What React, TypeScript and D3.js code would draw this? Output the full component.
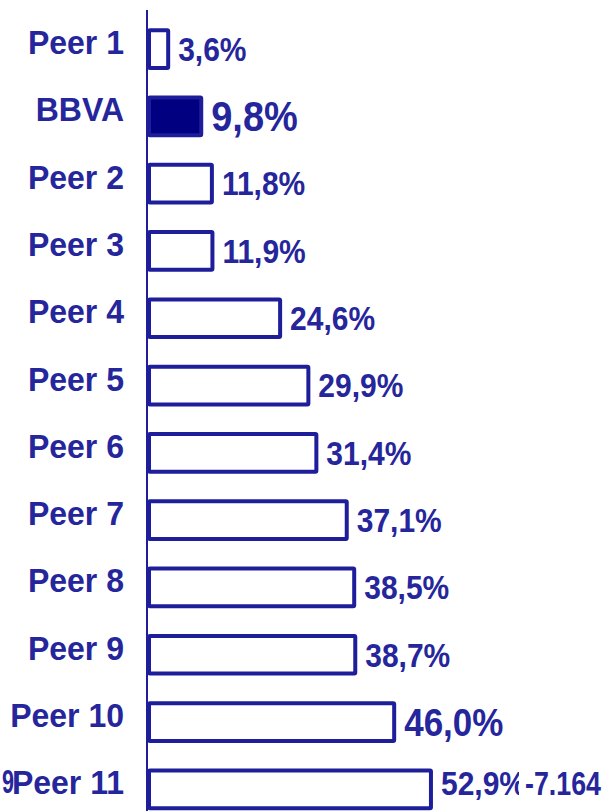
import React, { useEffect, useRef } from 'react';
import * as d3 from 'd3';

const categories = ['Peer 1', 'BBVA', 'Peer 2', 'Peer 3', 'Peer 4', 'Peer 5', 'Peer 6', 'Peer 7', 'Peer 8', 'Peer 9', 'Peer 10', 'Peer 11'];
const values = [3.6, 9.8, 11.8, 11.9, 24.6, 29.9, 31.4, 37.1, 38.5, 38.7, 46.0, 52.9];
const valueLabels = ['3,6%', '9,8%', '11,8%', '11,9%', '24,6%', '29,9%', '31,4%', '37,1%', '38,5%', '38,7%', '46,0%', '52,9%'];
const highlight = 'BBVA';
const strayLeft = '9';
const strayRight = '-7.164';

const width = 605;
const height = 811;

const App: React.FC = () => {
  const svgRef = useRef<SVGSVGElement>(null);

  useEffect(() => {
    if (!svgRef.current) return;
    const svg = d3.select(svgRef.current);
    svg.selectAll('*').remove();

    const blue = '#1e1e9b';
    const textBlue = '#26269c';
    const font = '"Liberation Sans", Arial, sans-serif';
    const stretch = 1.1;

    const x = d3.scaleLinear().domain([0, 60]).range([149, 149 + 60 * 5.33]);
    const y = d3.scaleBand<string>()
      .domain(categories)
      .range([15.4, 15.4 + categories.length * 67.3])
      .paddingInner(0.44)
      .paddingOuter(0.22);
    const mid = (c: string) => y(c)! + y.bandwidth() / 2;

    const data = categories.map((c, i) => ({ cat: c, value: values[i], label: valueLabels[i] }));
    const last = categories[categories.length - 1];

    // axis line
    svg.append('line')
      .attr('x1', 147).attr('x2', 147)
      .attr('y1', 10).attr('y2', height)
      .attr('stroke', blue)
      .attr('stroke-width', 2);

    // bars
    svg.selectAll('.bar')
      .data(data)
      .enter().append('rect')
      .attr('class', 'bar')
      .attr('x', x(0))
      .attr('y', d => y(d.cat)!)
      .attr('width', d => x(d.value) - x(0))
      .attr('height', y.bandwidth())
      .attr('rx', 1)
      .attr('fill', d => d.cat === highlight ? '#000080' : 'white')
      .attr('stroke', blue)
      .attr('stroke-width', 4);

    // stray "9" behind the Peer 11 label
    svg.append('text')
      .attr('transform', `translate(2, ${mid(last) + 4}) scale(1, ${stretch})`)
      .attr('textLength', 12)
      .attr('lengthAdjust', 'spacingAndGlyphs')
      .style('font-family', font)
      .style('font-weight', 'bold')
      .style('font-size', '31px')
      .style('fill', textBlue)
      .text(strayLeft);

    // category labels
    svg.selectAll('.cat')
      .data(data)
      .enter().append('text')
      .attr('class', 'cat')
      .attr('transform', d => `translate(124, ${mid(d.cat) + 5}) scale(1, 1.05)`)
      .attr('text-anchor', 'end')
      .style('font-family', font)
      .style('font-weight', 'bold')
      .style('font-size', '32px')
      .style('fill', textBlue)
      .text(d => d.cat);

    // value labels
    const sizeFor = (d: { cat: string }) => d.cat === highlight ? 38 : d.cat === 'Peer 10' ? 35 : 30;
    svg.selectAll('.val')
      .data(data)
      .enter().append('text')
      .attr('class', 'val')
      .attr('transform', d => {
        const off = d.cat === last ? 6 : sizeFor(d) * 0.394;
        return `translate(${x(d.value) + 10}, ${mid(d.cat) + off}) scale(1, ${stretch})`;
      })
      .style('font-family', font)
      .style('font-weight', 'bold')
      .style('font-size', d => `${sizeFor(d)}px`)
      .style('fill', textBlue)
      .text(d => d.label);

    // stray "-7.164" overlapping the last value label
    const stray = svg.append('g');
    stray.append('rect')
      .attr('x', 519)
      .attr('y', mid(last) - 24)
      .attr('width', 86)
      .attr('height', 42)
      .attr('fill', 'white');
    stray.append('text')
      .attr('transform', `translate(525, ${mid(last) + 6}) scale(1, ${stretch})`)
      .attr('textLength', 76)
      .attr('lengthAdjust', 'spacingAndGlyphs')
      .style('font-family', font)
      .style('font-weight', 'bold')
      .style('font-size', '31px')
      .style('fill', textBlue)
      .text(strayRight);
  }, []);

  return (
    <svg
      ref={svgRef}
      width={width}
      height={height}
      style={{ position: 'absolute', left: 0, top: 0, background: 'white' }}
    />
  );
};

export default App;
